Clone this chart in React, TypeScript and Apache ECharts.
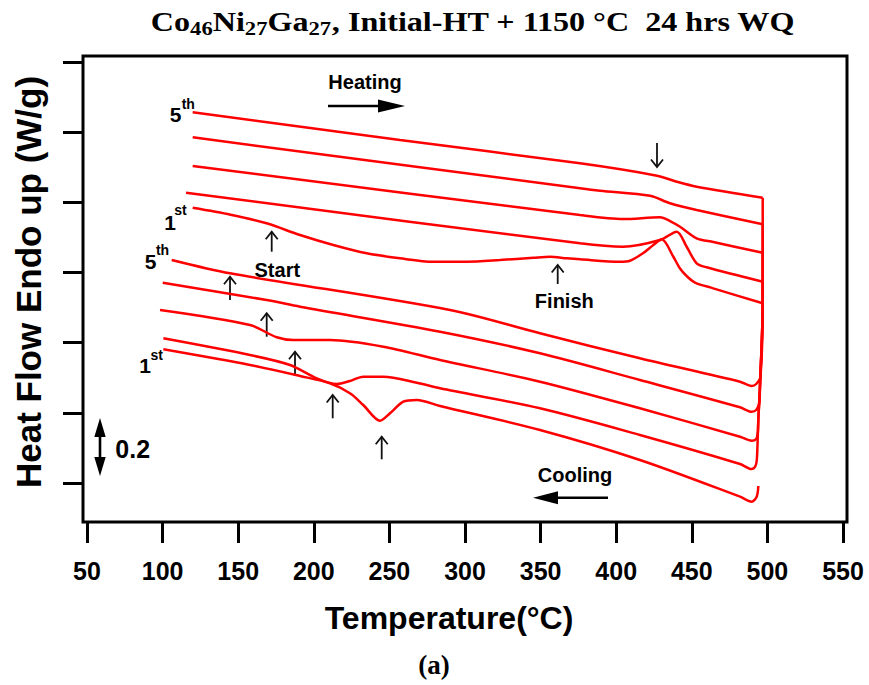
import { useEffect, useRef } from "react";
import * as echarts from "echarts";

type Pt = [number, number];

// Temperature axis (°C)
const tempMin = 50;
const tempMax = 550;
const tempStep = 50;

// Heat-flow axis (W/g, arbitrary offset between runs)
const flowMin = 0;
const flowMax = 1.5;
const flowStep = 0.25;
// the plot frame runs a little below the lowest tick
const flowFloor = -0.139;

// Heating runs, [temperature °C, heat flow W/g]
const heating1: Pt[] = [
  [119.9, 0.9808], [145.0, 0.9560], [168.8, 0.9252], [190.9, 0.8835], [212.9, 0.8479],
  [235.0, 0.8183], [257.0, 0.8005], [279.0, 0.7884], [301.1, 0.7884], [323.1, 0.7944],
  [345.2, 0.8026], [356.2, 0.8062], [367.3, 0.8005], [376.1, 0.7969], [402.5, 0.7884],
  [409.1, 0.792], [417.7, 0.8183], [424.6, 0.8479], [430.1, 0.8682], [437.8, 0.8062],
  [442.2, 0.7642], [446.6, 0.7374], [452.1, 0.7143], [464.2, 0.6936], [496.9, 0.6402],
];
const heating2: Pt[] = [
  [119.9, 1.2316], [376.1, 1.0499], [389.3, 1.0413], [422.4, 1.0235], [435.6, 0.9965],
  [453.2, 0.9726], [496.9, 0.9216],
];
const heating3: Pt[] = [
  [119.9, 1.1293], [376.1, 0.9548], [404.5, 0.9405], [429.0, 0.9466], [435.6, 0.9334],
  [442.2, 0.9131], [453.2, 0.8718], [464.2, 0.8586], [496.9, 0.8205],
];
const heating4: Pt[] = [
  [115.5, 1.0342], [376.1, 0.8539], [404.5, 0.8418], [429.0, 0.8657], [440.0, 0.8953],
  [446.6, 0.8418], [453.2, 0.7827], [459.8, 0.7685], [496.9, 0.7171],
];
const heating5: Pt[] = [
  [119.9, 1.3206], [257.0, 1.222], [376.1, 1.1389], [427.0, 1.0948], [440.0, 1.0734],
  [453.2, 1.0556], [496.9, 1.0164],
];

// Cooling runs, listed from the hold at 500 °C downwards
const cooling1: Pt[] = [
  [494.0, -0.0107], [492.9, -0.0488], [489.6, -0.0666], [481.9, -0.0488], [415.7, 0.0819],
  [349.6, 0.1888], [283.5, 0.2743], [268.1, 0.2957], [259.2, 0.2896], [250.4, 0.2483],
  [243.8, 0.2219], [232.7, 0.2779], [223.9, 0.3196], [210.7, 0.3552], [190.9, 0.3812],
  [157.8, 0.4204], [100.5, 0.4763],
];
const cooling2: Pt[] = [
  [496.9, 0.9216], [496.9, 0.6402], [495.1, 0.3456], [494.0, 0.2258], [493.0, 0.0819],
  [491.8, 0.057], [489.6, 0.0499], [481.9, 0.0677], [415.7, 0.171], [349.6, 0.2661],
  [283.5, 0.3374], [268.1, 0.3571], [246.0, 0.3787], [232.7, 0.3787], [223.9, 0.3634],
  [215.1, 0.3527], [201.9, 0.373], [184.3, 0.4204], [157.8, 0.456], [100.5, 0.5155],
];
const cooling3: Pt[] = [
  [496.9, 0.8205], [496.9, 0.6402], [495.1, 0.3456], [494.0, 0.2258], [493.6, 0.1771],
  [492.4, 0.156], [489.6, 0.1507], [481.9, 0.1649], [415.7, 0.2661], [349.6, 0.3609],
  [283.5, 0.4382], [246.0, 0.4856], [210.7, 0.5094], [186.4, 0.5094], [175.5, 0.5191],
  [157.8, 0.5629], [98.3, 0.6163],
];
const cooling4: Pt[] = [
  [496.9, 0.7171], [496.9, 0.6402], [495.1, 0.3456], [494.6, 0.2839], [492.6, 0.26],
  [489.6, 0.254], [481.9, 0.2697], [415.7, 0.3669], [349.6, 0.4621], [283.5, 0.539],
  [190.9, 0.6281], [168.8, 0.6519], [100.1, 0.7136],
];
const cooling5: Pt[] = [
  [496.9, 1.0164], [496.9, 0.6402], [495.4, 0.3787], [492.6, 0.3527], [489.6, 0.3456],
  [481.9, 0.3609], [415.7, 0.4443], [349.6, 0.5333], [290.1, 0.6163], [144.6, 0.747],
  [106.0, 0.7944],
];

const runs: { name: string; data: Pt[] }[] = [
  { name: "Heating 1", data: heating1 },
  { name: "Heating 2", data: heating2 },
  { name: "Heating 3", data: heating3 },
  { name: "Heating 4", data: heating4 },
  { name: "Heating 5", data: heating5 },
  { name: "Cooling 1", data: cooling1 },
  { name: "Cooling 2", data: cooling2 },
  { name: "Cooling 3", data: cooling3 },
  { name: "Cooling 4", data: cooling4 },
  { name: "Cooling 5", data: cooling5 },
];

const SANS = "Liberation Sans, Arial, Helvetica, sans-serif";
const SERIF = "Liberation Serif, Times New Roman, serif";
const INK = "#000";

function label(text: string, x: number, y: number, size: number, extra: any = {}) {
  return {
    type: "text",
    x,
    y,
    z: 10,
    style: {
      text,
      fill: INK,
      fontSize: size,
      fontWeight: "bold",
      fontFamily: SANS,
      align: "center",
      verticalAlign: "middle",
      ...extra,
    },
  };
}

// thin pointer arrow with an open head at `tip`
function pointer(x: number, tip: number, tail: number) {
  const dir = tail > tip ? 1 : -1;
  return {
    type: "group",
    z: 10,
    children: [
      {
        type: "line",
        shape: { x1: x, y1: tip, x2: x, y2: tail },
        style: { stroke: "#111", lineWidth: 1.8 },
      },
      {
        type: "polyline",
        shape: { points: [[x - 6, tip + dir * 7.5], [x, tip], [x + 6, tip + dir * 7.5]] },
        style: { stroke: "#111", lineWidth: 1.8, fill: "none" },
      },
    ],
  };
}

// horizontal arrow with a filled head at x2
function bigArrow(x1: number, x2: number, y: number, head: number) {
  const d = x2 > x1 ? 1 : -1;
  return {
    type: "group",
    z: 10,
    children: [
      {
        type: "line",
        shape: { x1, y1: y, x2: x2 - d * head, y2: y },
        style: { stroke: INK, lineWidth: 2.6 },
      },
      {
        type: "polygon",
        shape: { points: [[x2, y], [x2 - d * head, y - 6.5], [x2 - d * head, y + 6.5]] },
        style: { fill: INK },
      },
    ],
  };
}

export default function App() {
  const ref = useRef<HTMLDivElement>(null);

  useEffect(() => {
    if (!ref.current) return;
    const chart = echarts.init(ref.current, null, { renderer: "svg" });

    const option: any = {
      animation: false,
      backgroundColor: "#fff",
      grid: [
        // data area, bounded by the frame
        { left: 87, right: 26, top: 62, bottom: 163, containLabel: false },
        // heat-flow tick rail on the left frame edge
        { left: 83, right: 26, top: 62, bottom: 202, containLabel: false },
      ],
      xAxis: [
        {
          gridIndex: 0,
          type: "value",
          position: "bottom",
          min: tempMin,
          max: tempMax,
          interval: tempStep,
          axisLine: { show: false, onZero: false },
          axisTick: { show: true, inside: false, length: 21, lineStyle: { color: INK, width: 3 } },
          axisLabel: {
            color: INK,
            fontSize: 25,
            fontWeight: "bold",
            fontFamily: SANS,
            margin: 36,
          },
          splitLine: { show: false },
        },
        { gridIndex: 1, type: "value", min: 0, max: 1, show: false },
      ],
      yAxis: [
        {
          gridIndex: 0,
          type: "value",
          min: flowFloor,
          max: flowMax,
          show: false,
          splitLine: { show: false },
        },
        {
          gridIndex: 1,
          type: "value",
          position: "left",
          min: flowMin,
          max: flowMax,
          interval: flowStep,
          axisLine: { show: false, onZero: false },
          axisTick: { show: true, inside: false, length: 20, lineStyle: { color: INK, width: 3 } },
          axisLabel: { show: false },
          splitLine: { show: false },
        },
      ],
      series: runs.map((r) => ({
        name: r.name,
        type: "line",
        xAxisIndex: 0,
        yAxisIndex: 0,
        data: r.data,
        showSymbol: false,
        symbol: "none",
        smooth: 0.3,
        clip: false,
        lineStyle: { color: "#ff0000", width: 2.5 },
        z: 3,
      })),
      graphic: [
        {
          type: "rect",
          z: 5,
          shape: { x: 83, y: 56, width: 764, height: 466 },
          style: { stroke: INK, lineWidth: 3, fill: "none" },
        },
        // title
        {
          type: "text",
          x: 473,
          y: 22,
          scaleX: 1.19,
          z: 10,
          style: {
            text: "{m|Co}{s|46}{m|Ni}{s|27}{m|Ga}{s|27}{m|, Initial-HT + 1150 °C  24 hrs WQ}",
            align: "center",
            verticalAlign: "middle",
            fill: INK,
            rich: {
              m: { fontSize: 27, fontWeight: "bold", fontFamily: SERIF, lineHeight: 32, fill: INK },
              s: {
                fontSize: 19,
                fontWeight: "bold",
                fontFamily: SERIF,
                lineHeight: 20,
                verticalAlign: "bottom",
                fill: INK,
              },
            },
          },
        },
        // axis titles
        label("Temperature(°C)", 449, 618, 32),
        {
          type: "text",
          x: 28,
          y: 282,
          rotation: Math.PI / 2,
          z: 10,
          style: {
            text: "Heat Flow Endo up (W/g)",
            fill: INK,
            fontSize: 35,
            fontWeight: "bold",
            fontFamily: SANS,
            align: "center",
            verticalAlign: "middle",
          },
        },
        {
          type: "text",
          x: 434,
          y: 665,
          z: 10,
          style: {
            text: "(a)",
            fill: INK,
            fontSize: 27,
            fontWeight: "bold",
            fontFamily: SERIF,
            align: "center",
            verticalAlign: "middle",
          },
        },
        // run numbers
        label("5", 175.7, 114.4, 21),
        label("th", 188.3, 103.5, 14),
        label("1", 170, 222, 21),
        label("st", 180.5, 209.5, 14),
        label("5", 150.5, 261, 21),
        label("th", 162.5, 250, 14),
        label("1", 145, 365.4, 21),
        label("st", 156.7, 355, 14),
        // annotations
        label("Heating", 365, 82, 20),
        bigArrow(328, 405, 106, 27),
        label("Cooling", 575, 475, 20),
        bigArrow(608, 533, 497.7, 25),
        label("Start", 277.3, 269.5, 20),
        label("Finish", 564.3, 300.7, 20),
        pointer(657, 167, 143),
        pointer(271.7, 231.7, 251.7),
        pointer(557.7, 265, 284),
        pointer(230, 276.7, 300),
        pointer(266.7, 313.3, 336.7),
        pointer(295, 351.7, 375),
        pointer(332.7, 395, 418.3),
        pointer(381.7, 436.7, 459.3),
        // 0.2 W/g scale bar
        {
          type: "group",
          z: 10,
          children: [
            { type: "line", shape: { x1: 100, y1: 432, x2: 100, y2: 462 }, style: { stroke: INK, lineWidth: 2.6 } },
            { type: "polygon", shape: { points: [[100, 418], [94.3, 437], [105.7, 437]] }, style: { fill: INK } },
            { type: "polygon", shape: { points: [[100, 476], [94.3, 457], [105.7, 457]] }, style: { fill: INK } },
          ],
        },
        label("0.2", 132.7, 449.3, 25),
      ],
    };

    chart.setOption(option);
    return () => chart.dispose();
  }, []);

  return (
    <div
      ref={ref}
      style={{ position: "fixed", left: 0, top: 0, width: 869, height: 685, background: "#fff" }}
    />
  );
}
